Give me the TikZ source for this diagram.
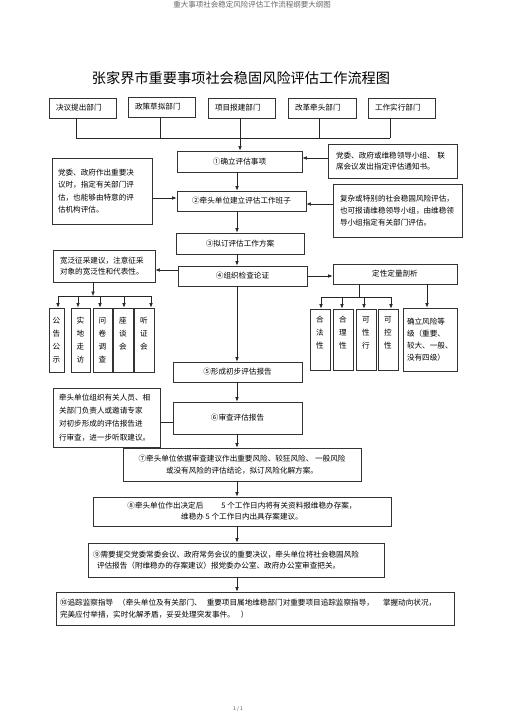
\documentclass[tikz,border=0pt]{standalone}
\usepackage{fontspec}
\setmainfont{Noto Sans CJK SC}
\usetikzlibrary{arrows.meta}
\newcommand{\myfs}{\fontsize{7.6}{12}\selectfont}
\newcommand{\myvfs}{\fontsize{7.6}{13}\selectfont}
\begin{document}
\begin{tikzpicture}[x=1pt,y=-1pt,
  box/.style={draw=black!80, line width=0.7pt, inner sep=0pt, font=\myfs, align=center},
  note/.style={box, align=left, inner xsep=6pt},
  vbox/.style={box, font=\myvfs, minimum height=64pt},
  arr/.style={-{Latex[length=4.5pt,width=3.6pt]}, line width=0.6pt, draw=black!85},
  ln/.style={line width=0.6pt, draw=black!85}]
\useasboundingbox (0,0) rectangle (505,714);

% header, title, footer
\node[font=\fontsize{7.5}{9}\selectfont, text=black!60] (hdr) at (252,5) {重大事项社会稳定风险评估工作流程纲要大纲图};
\node[font=\fontsize{14.2}{16}\selectfont] (ttl) at (241,78) {张家界市重要事项社会稳固风险评估工作流程图};
\node[font=\fontsize{5}{6}\selectfont, text=black!70] (pg) at (238,709) {1 / 1};

% departments
\node[note, inner xsep=7pt, text width=53pt, minimum height=20pt] (d1) at (82.5,108) {决议提出部门};
\node[note, inner xsep=7pt, text width=53pt, minimum height=20pt] (d2) at (161.5,107) {政策草拟部门};
\node[note, inner xsep=7pt, text width=53pt, minimum height=20pt] (d3) at (241.5,108) {项目报建部门};
\node[note, inner xsep=7pt, text width=54pt, minimum height=20pt] (d4) at (322,108) {改革牵头部门};
\node[note, inner xsep=7pt, text width=53pt, minimum height=20pt] (d5) at (401.5,108) {工作实行部门};

% main chain
\node[box, minimum width=125pt, minimum height=21pt] (b1) at (239.5,161.5) {①确立评估事项};
\node[box, minimum width=129pt, minimum height=20pt] (b2) at (241.5,201) {②牵头单位建立评估工作班子};
\node[box, minimum width=128pt, minimum height=21pt] (b3) at (240,243.5) {③拟订评估工作方案};
\node[box, minimum width=129pt, minimum height=20pt] (b4) at (242.5,276) {④组织检查论证};
\node[box, minimum width=129pt, minimum height=20pt] (b5) at (237.5,372) {⑤形成初步评估报告};
\node[box, minimum width=129pt, minimum height=32pt] (b6) at (237.5,418) {⑥审查评估报告};
\node[box, minimum width=238pt, minimum height=33pt] (b7) at (242,464.5) {⑦牵头单位依据审查建议作出重要风险、较狂风险、 一般风险\\或没有风险的评估结论，拟订风险化解方案。};
\node[box, minimum width=298pt, minimum height=29pt, font=\fontsize{7.6}{11}\selectfont] (b8) at (242,511.5) {⑧牵头单位作出决定后\hspace{18pt}5 个工作日内将有关资料报维稳办存案，\\维稳办 5 个工作日内出具存案建议。};
\node[note, inner xsep=5pt, text width=286pt, minimum height=34pt, font=\fontsize{7.6}{11}\selectfont] (b9) at (236,560) {⑨需要提交党委常委会议、政府常务会议的重要决议，牵头单位将社会稳固风险\\\hspace{4pt}评估报告（附维稳办的存案建议）报党委办公室、政府办公室审查把关。};
\node[note, inner xsep=4pt, text width=390pt, minimum height=33pt] (b10) at (255,608.5) {⑩追踪监察指导\hspace{5pt}（牵头单位及有关部门、\hspace{5pt}重要项目属地维稳部门对重要项目追踪监察指导，\hspace{9pt}掌握动向状况，\\完美应付举措，实时化解矛盾，妥妥处理突发事件。\hspace{6pt}）};

% side notes
\node[note, inner xsep=8pt, text width=113pt, minimum height=34pt, font=\fontsize{7.6}{11}\selectfont] (r1) at (392.5,161) {党委、政府或维稳领导小组、 联\\席会议发出指定评估通知书。};
\node[note, inner xsep=7pt, text width=115pt, minimum height=53pt] (r2) at (397.5,210.5) {复杂或特别的社会稳固风险评估，\\也可报请维稳领导小组，由维稳领\\导小组指定有关部门评估。};
\node[note, text width=88pt, minimum height=66pt, font=\fontsize{7.6}{12.3}\selectfont] (n1) at (102,191) {党委、政府作出重要决\\议时，指定有关部门评\\估，也能够由特意的评\\估机构评估。};
\node[note, inner xsep=7pt, text width=88pt, minimum height=32pt, font=\fontsize{7.6}{10.5}\selectfont] (n3) at (104,266) {宽泛征采建议，注意征采\\对象的宽泛性和代表性。};
\node[note, text width=95pt, minimum height=59pt, font=\fontsize{7.6}{13.3}\selectfont] (n4) at (106.5,417.5) {牵头单位组织有关人员、相\\关部门负责人或邀请专家\\对初步形成的评估报告进\\行审查，进一步听取建议。};

% left group of methods
\node[vbox, minimum width=15pt] (g1) at (56.5,340) {公\\告\\公\\示};
\node[vbox, minimum width=19pt, line width=1pt] (g2) at (80.5,340) {实\\地\\走\\访};
\node[vbox, minimum width=19pt] (g3) at (102.5,340) {问\\卷\\调\\查};
\node[vbox, minimum width=20pt] (g4) at (123,340) {座\\谈\\会\\\phantom{会}};
\node[vbox, minimum width=20pt] (g5) at (144,340) {听\\证\\会\\\phantom{会}};

% right group of analysis
\node[box, minimum width=124pt, minimum height=20pt] (q) at (395,274) {定性定量剖析};
\node[vbox, minimum width=20pt, minimum height=61pt] (h1) at (320,339.5) {合\\法\\性\\\phantom{性}};
\node[vbox, minimum width=20pt, minimum height=61pt] (h2) at (343,339.5) {合\\理\\性\\\phantom{性}};
\node[vbox, minimum width=20pt, minimum height=61pt] (h3) at (366,339.5) {可\\性\\行\\\phantom{性}};
\node[vbox, minimum width=20pt, minimum height=61pt] (h4) at (388,339.5) {可\\控\\性\\\phantom{性}};
\node[note, inner xsep=4pt, text width=46pt, minimum height=63pt] (lv) at (430,339.5) {确立风险等\\级（重要、\\较大、一般、\\没有四级）};

% top connectors
\coordinate (v1) at (76,138);
\coordinate (v2) at (160,138);
\coordinate (v3) at (240,138);
\coordinate (v4) at (319,138);
\coordinate (v5) at (390,138);
\draw[ln] (d1.south -| v1) -- (v1);
\draw[ln] (d2.south -| v2) -- (v2);
\draw[ln] (d3.south -| v3) -- (v3);
\draw[ln] (d4.south -| v4) -- (v4);
\draw[ln] (d5.south -| v5) -- (v5);
\draw[ln] (v1) -- (v5);
\draw[arr] (v3) -- (b1.north -| v3);

% main axis
\coordinate (ax) at (237,0);
\draw[arr] (b1.south -| ax) -- (b2.north -| ax);
\draw[arr] (b2.south -| ax) -- (b3.north -| ax);
\draw[arr] (b3.south -| ax) -- (b4.north -| ax);
\draw[arr] (b4.south -| ax) -- (b5.north -| ax);
\draw[arr] (b5.south -| ax) -- (b6.north -| ax);
\draw[arr] (b6.south -| ax) -- (b7.north -| ax);
\draw[arr] (b7.south -| ax) -- (b8.north -| ax);
\draw[arr] (b8.south -| ax) -- (b9.north -| ax);
\draw[arr] (b9.south -| ax) -- (b10.north -| ax);

% side connectors
\coordinate (y1) at (0,158);
\coordinate (y2) at (0,198);
\coordinate (y3) at (0,204);
\coordinate (y4) at (0,270);
\coordinate (y5) at (0,276);
\coordinate (y6) at (0,422);
\draw[arr] (r1.west |- y1) -- (b1.east |- y1);
\draw[arr] (n1.east |- y2) -- (b2.west |- y2);
\draw[arr] (r2.west |- y3) -- (b2.east |- y3);
\draw[arr] (b4.west |- y4) -- (n3.east |- y4);
\draw[arr] (b4.east |- y5) -- (q.west |- y5);
\draw[ln] (n4.east |- y6) -- (b6.west |- y6);

% left distribution
\coordinate (lh) at (93,296);
\coordinate (l1) at (58,296);
\coordinate (l2) at (78,296);
\coordinate (l3) at (100,296);
\coordinate (l4) at (124,296);
\coordinate (l5) at (151,296);
\draw[arr] (n3.south -| lh) -- (lh);
\draw[ln] (l1) -- (l5);
\draw[arr] (l1) -- (g1.north -| l1);
\draw[arr] (l2) -- (g2.north -| l2);
\draw[arr] (l3) -- (g3.north -| l3);
\draw[arr] (l4) -- (g4.north -| l4);
\draw[arr] (l5) -- (g5.north -| l5);

% right distribution
\coordinate (rh) at (359,297);
\coordinate (k1) at (321,297);
\coordinate (k2) at (342,297);
\coordinate (k3) at (364,297);
\coordinate (k4) at (391,297);
\coordinate (kl) at (427,0);
\draw[ln] (q.south -| rh) -- (rh);
\draw[ln] (k1) -- (k4);
\draw[arr] (k1) -- (h1.north -| k1);
\draw[arr] (k2) -- (h2.north -| k2);
\draw[arr] (k3) -- (h3.north -| k3);
\draw[arr] (k4) -- (h4.north -| k4);
\draw[arr] (q.south -| kl) -- (lv.north -| kl);
\end{tikzpicture}
\end{document}
